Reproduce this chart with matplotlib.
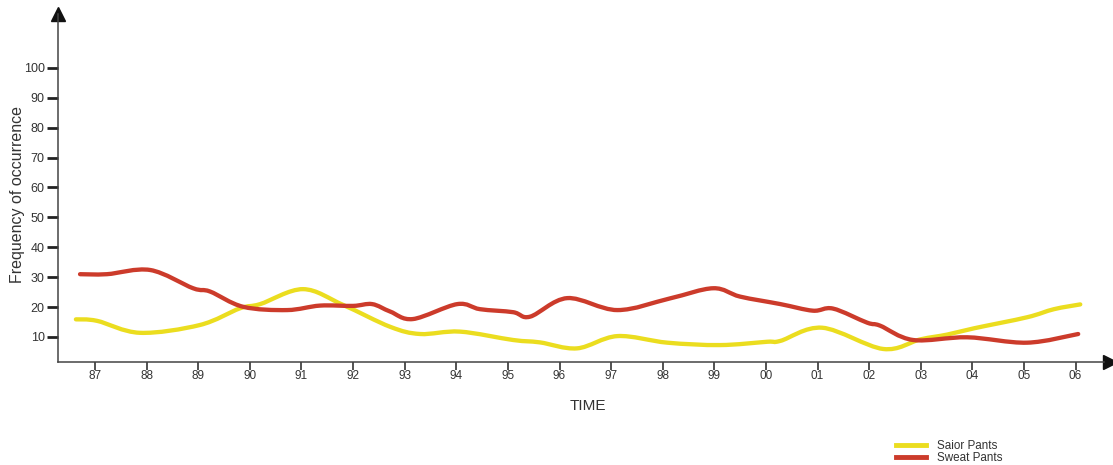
import matplotlib
matplotlib.use("Agg")
import matplotlib.pyplot as plt
from matplotlib.path import Path
from matplotlib.patches import PathPatch
from matplotlib.lines import Line2D
import numpy as np

plt.rcParams['font.family'] = ['Liberation Sans', 'DejaVu Sans']

# Time axis: year labels and readings (x in years since 1987)
year_labels = ['87', '88', '89', '90', '91', '92', '93', '94', '95', '96',
               '97', '98', '99', '00', '01', '02', '03', '04', '05', '06']
y_ticks = [10, 20, 30, 40, 50, 60, 70, 80, 90, 100]

sailor_x = [-0.37, 0.04, 0.87, 2.03, 2.81, 3.2, 4.03, 4.81, 5.72, 6.30, 7.07,
            8.10, 8.62, 9.34, 10.12, 11.09, 12.11, 13.02, 13.28, 14.09,
            15.27, 15.99, 16.51, 17.03, 18.06, 18.58, 19.09]
sailor_y = [15.9, 15.4, 11.4, 14.0, 19.6, 21.0, 26.0, 20.7, 13.4, 11.0, 11.8,
            9.0, 8.2, 6.2, 10.3, 8.1, 7.3, 8.4, 8.7, 13.1,
            6.0, 9.2, 10.8, 12.9, 16.6, 19.3, 20.9]

sweat_x = [-0.29, 0.23, 1.07, 1.90, 2.23, 2.87, 3.72, 4.36, 5.0, 5.37, 5.72,
           6.16, 7.02, 7.46, 8.10, 8.43, 9.15, 10.12, 11.14, 11.98, 12.5,
           13.28, 13.91, 14.30, 14.96, 15.21, 15.85, 16.90, 18.06, 19.05]
sweat_y = [31.0, 31.0, 32.4, 26.3, 25.2, 20.1, 19.0, 20.5, 20.4, 21.0, 18.5,
           16.0, 21.0, 19.3, 18.3, 16.8, 23.0, 19.0, 22.9, 26.3, 23.5,
           21.0, 18.8, 19.5, 14.8, 13.8, 9.0, 9.9, 8.1, 11.0]

series_names = ['Saior Pants', 'Sweat Pants']
colors = ['#ebdd1f', '#cc3b2b']


def smooth_path(xs, ys):
    """Catmull-Rom curve through the readings as cubic Bezier segments."""
    pts = np.column_stack([xs, ys]).astype(float)
    n = len(pts)
    verts = [pts[0]]
    codes = [Path.MOVETO]
    for i in range(n - 1):
        p0 = pts[i - 1] if i > 0 else pts[i]
        p1 = pts[i]
        p2 = pts[i + 1]
        p3 = pts[i + 2] if i + 2 < n else pts[i + 1]
        c1 = p1 + (p2 - p0) / 6.0
        c2 = p2 - (p3 - p1) / 6.0
        verts += [c1, c2, p2]
        codes += [Path.CURVE4] * 3
    return Path(verts, codes)


W, H = 1113, 465
fig = plt.figure(figsize=(W / 100, H / 100), dpi=100)
left, right, bottom, top = 58, 1104, 362, 14
ax = fig.add_axes([left / W, (H - bottom) / H, (right - left) / W, (bottom - top) / H])

year0 = 1987
for xs, ys, c in [(sailor_x, sailor_y, colors[0]), (sweat_x, sweat_y, colors[1])]:
    path = smooth_path([year0 + v for v in xs], ys)
    ax.add_patch(PathPatch(path, fill=False, edgecolor=c, lw=3.1,
                           capstyle='round', joinstyle='round'))

ax.set_xlim(year0 - 0.717, year0 + 19.55)
ax.set_ylim(1.64, 118.0)

ax.set_xticks([year0 + i for i in range(len(year_labels))])
ax.set_xticklabels(year_labels)
ax.set_yticks(y_ticks)
ax.set_yticklabels([str(v) for v in y_ticks])

for s in ['top', 'right']:
    ax.spines[s].set_visible(False)
for s in ['left', 'bottom']:
    ax.spines[s].set_color('#444444')
    ax.spines[s].set_linewidth(1.1)

ax.tick_params(axis='y', direction='out', length=8, width=2, color='#222222',
               labelsize=9, labelcolor='#333333', pad=1.5)
ax.tick_params(axis='x', direction='out', length=6, width=1.2, color='#333333',
               labelsize=8.5, labelcolor='#333333', pad=0)

# arrow heads on the axes
ax.plot([0], [1], marker='^', markersize=10, color='#111111',
        transform=ax.transAxes, clip_on=False)
ax.plot([1.006], [0], marker='>', markersize=10, color='#111111',
        transform=ax.transAxes, clip_on=False)

fig.text(18 / W, 1 - 194 / H, 'Frequency of occurrence', rotation=90,
         ha='center', va='center', fontsize=11.5, color='#333333')
fig.text(588 / W, 1 - 406 / H, 'TIME', ha='center', va='center',
         fontsize=11, color='#333333')

handles = [Line2D([], [], color=c, lw=3.5) for c in colors]
fig.legend(handles, series_names, loc='upper left',
           bbox_to_anchor=(890 / W, 1 - 434 / H), frameon=False,
           fontsize=8.4, handlelength=2.6, handletextpad=0.9,
           labelspacing=0.05, borderpad=0, labelcolor='#333333')

fig.savefig('out.png', dpi=100)
